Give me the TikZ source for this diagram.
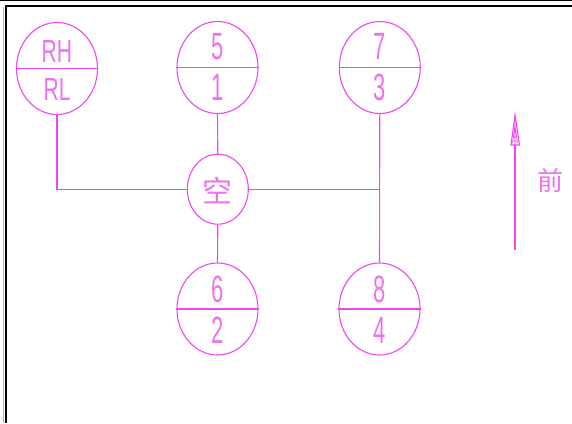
\documentclass[tikz,border=0pt]{standalone}
\usepackage{fontspec}
\usetikzlibrary{shapes.geometric}
\newfontfamily\cjk{Noto Sans CJK SC}
\newfontfamily\lightf{Liberation Sans}
\definecolor{cad}{RGB}{240,70,240}
\definecolor{cadtext}{RGB}{236,115,236}
\tikzset{
  gear/.style={ellipse, draw=cad, line width=1.1pt, minimum width=81pt, minimum height=92pt, inner sep=0pt},
  hub/.style={ellipse, draw=cad, line width=1.1pt, minimum width=61pt, minimum height=70pt, inner sep=0pt},
  conn/.style={draw=cad, line width=1.1pt},
  digit/.style={text=cadtext, inner sep=0pt, font=\lightf\fontsize{38}{38}\selectfont, xscale=0.58},
  letters/.style={text=cadtext, inner sep=0pt, font=\lightf\fontsize{32}{32}\selectfont, xscale=0.66},
  han/.style={text=cadtext, inner sep=0pt, font=\cjk\fontsize{30}{30}\selectfont}
}
\begin{document}
\begin{tikzpicture}[x=1pt,y=-1pt]
\useasboundingbox (0,0) rectangle (572,423);
\fill[white] (0,0) rectangle (572,423);
% frame
\draw[black, line width=0.8pt] (0,0.5) -- (572,0.5);
\draw[black, line width=2.6pt] (4.5,6) -- (572,6);
\draw[black, line width=2.6pt] (6,6) -- (6,423);
\draw[gray!60, line width=0.8pt] (3.8,7) -- (3.8,423);
% gear circles
\node[gear] (rh) at (57,68.5) {};
\node[gear] (g51) at (217.5,67.5) {};
\node[gear] (g73) at (379.8,67.5) {};
\node[hub]  (kong) at (217.8,189.2) {};
\node[gear] (g62) at (217.5,309) {};
\node[gear] (g84) at (379.5,309) {};
\foreach \n in {rh,g51,g73,g62,g84} \draw[conn] (\n.west) -- (\n.east);
% labels
\node[letters] (trh) at (57,51.5) {RH};
\node[letters] (trl) at (57,89.5) {RL};
\node[digit] (t5) at (217.5,46.5) {5};
\node[digit] (t1) at (217.5,87) {1};
\node[digit] (t7) at (379.8,46.5) {7};
\node[digit] (t3) at (379.8,87) {3};
\node[digit] (t6) at (217.5,289) {6};
\node[digit] (t2) at (217.5,330.5) {2};
\node[digit] (t8) at (379.5,289) {8};
\node[digit] (t4) at (379.5,330.5) {4};
\node[han] (tk) at (217.8,190) {空};
% connectors
\coordinate (junc) at (g73.south |- kong.east);
\draw[conn] (rh.south) |- (kong.west);
\draw[conn] (g51.south) -- (kong.north);
\draw[conn] (kong.south) -- (g62.north);
\draw[conn] (kong.east) -- (junc);
\draw[conn] (g73.south) -- (g84.north);
% direction arrow
\coordinate (abot) at (515,250);
\coordinate (abase) at (515,145);
\coordinate (atip) at (515,115);
\draw[conn] (abot) -- (abase);
\draw[conn, line join=miter] (511,145) -- (atip) -- (519.5,145) -- cycle;
\draw[draw=cad, line width=0.6pt] (512.5,143) -- (515,125) -- (517.5,143) (513.3,137) -- (516.7,137) (512.7,141) -- (517.3,141) (515,120) -- (515,145);
\node[han, font=\cjk\fontsize{26}{26}\selectfont] (qian) at (550.5,181) {前};
\end{tikzpicture}
\end{document}
